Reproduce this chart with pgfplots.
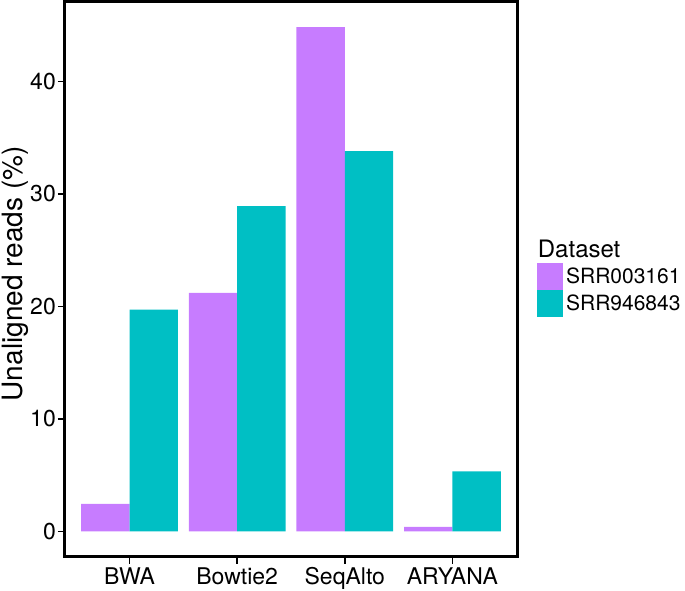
\documentclass[border=0pt]{standalone}
\usepackage{fontspec}
\setmainfont{TeX Gyre Heros}
\usepackage{pgfplots}
\pgfplotsset{compat=1.18}
\definecolor{cpurple}{HTML}{C77CFF}
\definecolor{cteal}{HTML}{00BFC4}
\begin{document}
\begin{tikzpicture}
\useasboundingbox (-65pt,-33.3pt) rectangle (620pt,556.7pt);
\begin{axis}[
  at={(0pt,0pt)}, anchor=south west,
  scale only axis, width=452pt, height=554.7pt,
  xmin=0.4, xmax=4.6, ymin=-2.24, ymax=47.04,
  ybar=0pt, bar width=48.4pt,
  axis line style={line width=3pt, black},
  tick style={line width=1.4pt, black},
  major tick length=7pt, tick align=outside,
  xtick pos=bottom, ytick pos=left,
  xtick={1,2,3,4}, xticklabels={BWA,Bowtie2,SeqAlto,ARYANA},
  ytick={0,10,20,30,40},
  /pgf/number format/assume math mode=true,
  ticklabel style={font=\fontsize{23}{25}\selectfont, black},
  yticklabel style={inner sep=2pt},
  xticklabel style={inner sep=2pt, yshift=-1.5pt},
  ylabel={Unaligned reads (\%)},
  every axis y label/.style={at={(axis description cs:-0.109,0.51)}, rotate=90, anchor=center, font=\fontsize{28}{30}\selectfont},
  legend style={at={(axis description cs:1.044,0.5295)}, anchor=north west, draw=none, fill=none, inner sep=0pt, row sep=0pt, column sep=3pt, font=\fontsize{21}{23}\selectfont, nodes={inner sep=0pt, anchor=west}},
  legend image code/.code={\fill[#1] (0pt,-13.5pt) rectangle (26pt,13.5pt);},
  legend cell align=left,
]
\addplot[fill=cpurple, draw=none] coordinates {(1,2.45) (2,21.2) (3,44.8) (4,0.4)};
\addlegendentry{SRR003161}
\addplot[fill=cteal, draw=none] coordinates {(1,19.7) (2,28.9) (3,33.8) (4,5.33)};
\addlegendentry{SRR946843}
\end{axis}
\node[anchor=base west, inner sep=0pt, font=\fontsize{24}{26}\selectfont] at (472.7pt,299pt) {Dataset};
\end{tikzpicture}
\end{document}
